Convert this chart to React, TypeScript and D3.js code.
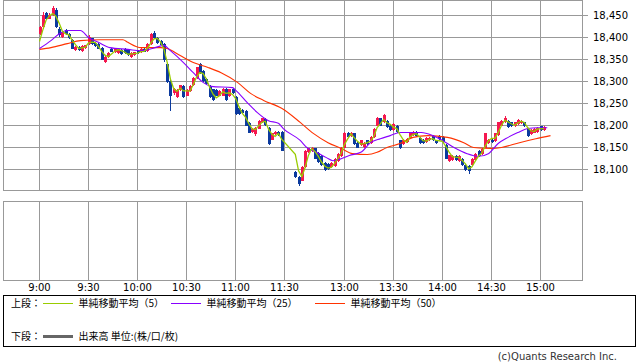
import { useRef, useEffect } from 'react';
import * as d3 from 'd3';

// price axis (upper panel)
const priceTicks = [18100, 18150, 18200, 18250, 18300, 18350, 18400, 18450];
const timeTicks = ['9:00', '9:30', '10:00', '10:30', '11:00', '11:30', '13:00', '13:30', '14:00', '14:30', '15:00'];

// 2-minute bars, [open, high, low, close]
const barMinutes = 2;
const morningStart = '9:00';
const afternoonStart = '12:30';
const prevClose = 18375;

const morningBars = [
  [18409, 18426, 18405, 18423], [18423, 18458, 18420, 18452], [18455, 18458, 18440, 18443], [18443, 18455, 18441, 18452],
  [18452, 18472, 18450, 18468], [18462, 18466, 18422, 18425], [18420, 18424, 18402, 18405], [18402, 18414, 18400, 18412],
  [18418, 18420, 18406, 18408], [18408, 18410, 18396, 18398], [18395, 18397, 18373, 18375], [18372, 18380, 18370, 18378],
  [18378, 18380, 18370, 18372], [18370, 18382, 18368, 18380], [18376, 18384, 18374, 18382], [18385, 18405, 18383, 18402],
  [18398, 18400, 18383, 18385], [18388, 18390, 18378, 18380], [18386, 18388, 18373, 18375], [18377, 18379, 18348, 18350],
  [18345, 18357, 18343, 18355], [18355, 18366, 18353, 18364], [18375, 18377, 18366, 18368], [18366, 18376, 18364, 18374],
  [18364, 18377, 18362, 18375], [18372, 18374, 18360, 18362], [18375, 18377, 18362, 18364], [18372, 18374, 18358, 18360],
  [18356, 18366, 18354, 18364], [18360, 18368, 18358, 18366], [18370, 18372, 18362, 18364], [18366, 18376, 18364, 18374],
  [18374, 18376, 18366, 18368], [18370, 18387, 18368, 18385], [18386, 18410, 18384, 18408], [18411, 18414, 18396, 18398],
  [18400, 18402, 18386, 18388], [18392, 18394, 18382, 18384], [18386, 18388, 18345, 18350], [18340, 18342, 18296, 18300],
  [18302, 18304, 18234, 18268], [18273, 18286, 18270, 18284], [18264, 18282, 18262, 18280], [18280, 18293, 18278, 18291],
  [18290, 18292, 18262, 18265], [18268, 18282, 18266, 18280], [18278, 18292, 18276, 18290], [18291, 18311, 18289, 18309],
  [18307, 18334, 18305, 18332], [18340, 18343, 18318, 18320], [18325, 18327, 18300, 18302], [18305, 18307, 18293, 18295],
  [18290, 18292, 18262, 18264], [18282, 18284, 18255, 18257], [18280, 18282, 18266, 18268], [18268, 18280, 18266, 18278],
  [18268, 18286, 18266, 18284], [18284, 18286, 18255, 18257], [18266, 18284, 18264, 18282], [18284, 18286, 18271, 18273],
  [18264, 18266, 18225, 18227], [18240, 18242, 18225, 18227], [18236, 18238, 18226, 18228], [18234, 18236, 18198, 18200],
  [18205, 18207, 18182, 18184], [18186, 18195, 18184, 18193], [18180, 18197, 18177, 18195], [18193, 18213, 18191, 18211],
  [18207, 18218, 18205, 18216], [18214, 18216, 18200, 18202], [18195, 18197, 18155, 18157], [18168, 18184, 18166, 18182],
  [18180, 18188, 18178, 18186], [18186, 18188, 18176, 18178], [18186, 18188, 18141, 18143],
];

const afternoonBars = [
  [18094, 18096, 18080, 18082], [18084, 18086, 18062, 18066], [18075, 18107, 18073, 18105], [18105, 18145, 18103, 18143],
  [18140, 18150, 18138, 18148], [18141, 18152, 18139, 18150], [18148, 18150, 18123, 18125], [18138, 18140, 18114, 18116],
  [18130, 18132, 18108, 18110], [18115, 18117, 18096, 18098], [18112, 18114, 18100, 18102], [18105, 18116, 18103, 18114],
  [18108, 18127, 18106, 18125], [18120, 18138, 18118, 18136], [18130, 18152, 18128, 18150], [18150, 18186, 18148, 18184],
  [18184, 18186, 18173, 18175], [18176, 18186, 18174, 18184], [18182, 18184, 18156, 18158], [18160, 18162, 18148, 18150],
  [18155, 18168, 18153, 18166], [18152, 18163, 18150, 18161], [18166, 18168, 18155, 18157], [18160, 18177, 18158, 18175],
  [18173, 18195, 18171, 18193], [18200, 18220, 18198, 18218], [18216, 18218, 18198, 18200], [18207, 18227, 18205, 18223],
  [18211, 18213, 18194, 18196], [18200, 18202, 18187, 18189], [18189, 18206, 18187, 18204], [18200, 18202, 18184, 18186],
  [18166, 18168, 18146, 18148], [18157, 18170, 18155, 18168], [18162, 18172, 18160, 18170], [18172, 18184, 18170, 18182],
  [18178, 18188, 18176, 18186], [18186, 18188, 18174, 18176], [18172, 18174, 18158, 18160], [18168, 18170, 18159, 18161],
  [18162, 18174, 18160, 18172], [18166, 18174, 18164, 18172], [18177, 18179, 18164, 18166], [18166, 18168, 18158, 18160],
  [18177, 18179, 18168, 18170], [18175, 18177, 18160, 18162], [18155, 18157, 18123, 18125], [18120, 18134, 18118, 18132],
  [18122, 18132, 18120, 18130], [18130, 18132, 18120, 18122], [18120, 18132, 18118, 18130], [18124, 18126, 18108, 18110],
  [18110, 18112, 18096, 18098], [18108, 18110, 18090, 18096], [18110, 18127, 18108, 18125], [18122, 18138, 18120, 18136],
  [18143, 18145, 18128, 18130], [18136, 18148, 18134, 18146], [18150, 18184, 18148, 18182], [18160, 18170, 18158, 18168],
  [18168, 18170, 18160, 18162], [18164, 18184, 18162, 18182], [18178, 18209, 18176, 18207], [18200, 18213, 18198, 18211],
  [18207, 18222, 18205, 18218], [18211, 18213, 18194, 18196], [18207, 18209, 18196, 18198], [18198, 18209, 18196, 18207],
  [18204, 18214, 18202, 18212], [18205, 18213, 18203, 18211], [18207, 18209, 18196, 18198], [18193, 18195, 18175, 18177],
  [18180, 18191, 18178, 18189], [18184, 18195, 18182, 18193], [18186, 18197, 18184, 18195], [18198, 18200, 18187, 18189],
  [18189, 18198, 18187, 18196],
];

// longer averages carry over from the previous session: [minutes after 9:00, value]
const sma25 = [
  [0, 18375], [7, 18393], [13, 18411], [17, 18416], [25, 18416], [30, 18400], [36, 18389], [43, 18377], [54, 18373],
  [62, 18370], [69, 18375], [76, 18382], [80, 18370], [88, 18343], [94, 18320], [100, 18298], [105, 18289], [118, 18286],
  [120, 18280], [127, 18252], [133, 18230], [140, 18211], [146, 18205], [149, 18193], [213, 18166], [217, 18150],
  [223, 18139], [229, 18127], [233, 18120], [237, 18123], [243, 18132], [250, 18139], [256, 18161], [262, 18170],
  [268, 18177], [274, 18184], [287, 18184], [294, 18177], [300, 18166], [307, 18150], [315, 18136], [322, 18130],
  [328, 18136], [334, 18159], [340, 18173], [346, 18184], [352, 18193], [358, 18195], [364, 18195],
];
const sma50 = [
  [0, 18373], [7, 18377], [17, 18386], [25, 18393], [37, 18395], [51, 18395], [54, 18389], [62, 18377], [74, 18377],
  [78, 18375], [86, 18359], [94, 18343], [103, 18332], [111, 18320], [121, 18298], [129, 18273], [137, 18257],
  [148, 18239], [213, 18207], [221, 18182], [230, 18161], [238, 18148], [245, 18136], [254, 18134], [260, 18139],
  [266, 18150], [274, 18159], [282, 18173], [291, 18177], [303, 18173], [313, 18161], [319, 18150], [330, 18148],
  [336, 18150], [347, 18161], [357, 18170], [366, 18177],
];

// 5-minute average on 1-minute data is about a 3-bar average on 2-minute bars
const shortWindow = 3;

const legendRows = [
  { head: '上段：', items: [
    { label: '単純移動平均（5）', color: '#99cc00' },
    { label: '単純移動平均（25）', color: '#8800ff' },
    { label: '単純移動平均（50）', color: '#ff3300' },
  ] },
  { head: '下段：', items: [{ label: '出来高 単位:(株/口/枚)', color: '#666666', thick: true }] },
];

const toMin = (t) => {
  const [h, m] = t.split(':').map(Number);
  return (h - 9) * 60 + m;
};

export default function App() {
  const ref = useRef(null);

  useEffect(() => {
    const svg = d3.select(ref.current);
    svg.selectAll('*').remove();

    const font = '"DejaVu Sans", "Noto Sans CJK JP", sans-serif';
    const gridColor = '#999999';
    const upColor = '#f5174f';
    const downColor = '#0b3a9e';

    const left = 3.5, right = 582.5;
    const upperTop = 0.5, upperBottom = 190.5;
    const lowerTop = 201.5, lowerBottom = 280.5;

    // morning and afternoon sessions side by side, lunch squeezed
    const k = 1.636;
    const x = d3.scaleLinear()
      .domain([0, 150, 210, 390])
      .range([39.5, 39.5 + 150 * k, 295.3, 295.3 + 180 * k]);
    const y = d3.scaleLinear().domain([18100, 18450]).range([169.5, 15.5]);

    const bars = [
      ...morningBars.map((b, i) => ({ m: toMin(morningStart) + i * barMinutes, o: b[0], h: b[1], l: b[2], c: b[3] })),
      ...afternoonBars.map((b, i) => ({ m: toMin(afternoonStart) + i * barMinutes, o: b[0], h: b[1], l: b[2], c: b[3] })),
    ];

    const snap = (v) => Math.floor(v) + 0.5;

    // grid
    const grid = svg.append('g').attr('stroke', gridColor).attr('stroke-width', 1).attr('shape-rendering', 'crispEdges');
    grid.selectAll('line.h')
      .data(priceTicks)
      .join('line')
      .attr('x1', left).attr('x2', right + 5)
      .attr('y1', d => y(d)).attr('y2', d => y(d));
    [[upperTop, upperBottom], [lowerTop, lowerBottom]].forEach(([t, b]) => {
      grid.append('g').selectAll('line')
        .data(timeTicks)
        .join('line')
        .attr('x1', d => snap(x(toMin(d)))).attr('x2', d => snap(x(toMin(d))))
        .attr('y1', t).attr('y2', b);
      grid.append('rect')
        .attr('x', left).attr('y', t)
        .attr('width', right - left).attr('height', b - t)
        .attr('fill', 'none');
    });

    // price labels
    svg.append('g').selectAll('text')
      .data(priceTicks)
      .join('text')
      .attr('x', 593).attr('y', d => y(d) + 3.5)
      .attr('font-family', font).attr('font-size', 10).attr('fill', '#000')
      .text(d => d3.format(',')(d));

    // time labels
    svg.append('g').selectAll('text')
      .data(timeTicks)
      .join('text')
      .attr('x', d => snap(x(toMin(d))))
      .attr('y', 291)
      .attr('text-anchor', 'middle')
      .attr('font-family', font).attr('font-size', 10).attr('fill', '#000')
      .text(d => d);

    // candles
    const cg = svg.append('g').attr('shape-rendering', 'crispEdges');
    cg.selectAll('line')
      .data(bars)
      .join('line')
      .attr('x1', d => Math.round(x(d.m)) + 0.5).attr('x2', d => Math.round(x(d.m)) + 0.5)
      .attr('y1', d => y(d.h)).attr('y2', d => y(d.l))
      .attr('stroke', d => (d.c >= d.o ? upColor : downColor));
    cg.selectAll('rect')
      .data(bars)
      .join('rect')
      .attr('x', d => Math.round(x(d.m)) - 1)
      .attr('width', 3)
      .attr('y', d => y(Math.max(d.o, d.c)))
      .attr('height', d => Math.max(1, Math.abs(y(d.o) - y(d.c))))
      .attr('fill', d => (d.c >= d.o ? upColor : downColor));

    // moving averages
    const closes = [prevClose, prevClose, ...bars.map(d => d.c)];
    const sma5 = bars.map((d, i) => [d.m, d3.mean(closes.slice(i, i + shortWindow))]);
    const line = d3.line().x(d => x(d[0])).y(d => y(d[1]));
    const lineCurve = d3.line().x(d => x(d[0])).y(d => y(d[1])).curve(d3.curveMonotoneX);

    svg.append('path').datum(sma50).attr('d', lineCurve)
      .attr('fill', 'none').attr('stroke', '#ff3300').attr('stroke-width', 1.1);
    svg.append('path').datum(sma25).attr('d', lineCurve)
      .attr('fill', 'none').attr('stroke', '#8800ff').attr('stroke-width', 1.1);
    svg.append('path').datum(sma5).attr('d', line)
      .attr('fill', 'none').attr('stroke', '#99cc00').attr('stroke-width', 1.3);

    // legend box
    svg.append('rect')
      .attr('x', 3.5).attr('y', 295.5).attr('width', 632).attr('height', 51)
      .attr('fill', 'none').attr('stroke', '#000').attr('shape-rendering', 'crispEdges');

    const rowY = [303, 336.5];
    const itemX = [43, 171, 315];
    legendRows.forEach((row, r) => {
      const g = svg.append('g').attr('font-family', '"Noto Sans CJK JP", sans-serif').attr('font-size', 10);
      g.append('text').attr('x', 11).attr('y', rowY[r] + 3.5).attr('fill', '#000').text(row.head);
      row.items.forEach((it, i) => {
        g.append('line')
          .attr('x1', itemX[i]).attr('x2', itemX[i] + 30)
          .attr('y1', Math.floor(rowY[r]) + 0.5).attr('y2', Math.floor(rowY[r]) + 0.5)
          .attr('stroke', it.color).attr('stroke-width', it.thick ? 3 : 1)
          .attr('shape-rendering', 'crispEdges');
        g.append('text').attr('x', itemX[i] + 35.5).attr('y', rowY[r] + 3.5).attr('fill', '#000').text(it.label);
      });
    });

    svg.append('text')
      .attr('x', 617).attr('y', 360)
      .attr('text-anchor', 'end')
      .attr('font-family', font).attr('font-size', 10).attr('fill', '#333')
      .text('(c)Quants Research Inc.');
  }, []);

  return (
    <svg ref={ref} width={638} height={362}
      style={{ position: 'absolute', left: 0, top: 0, background: '#fff', display: 'block' }} />
  );
}
